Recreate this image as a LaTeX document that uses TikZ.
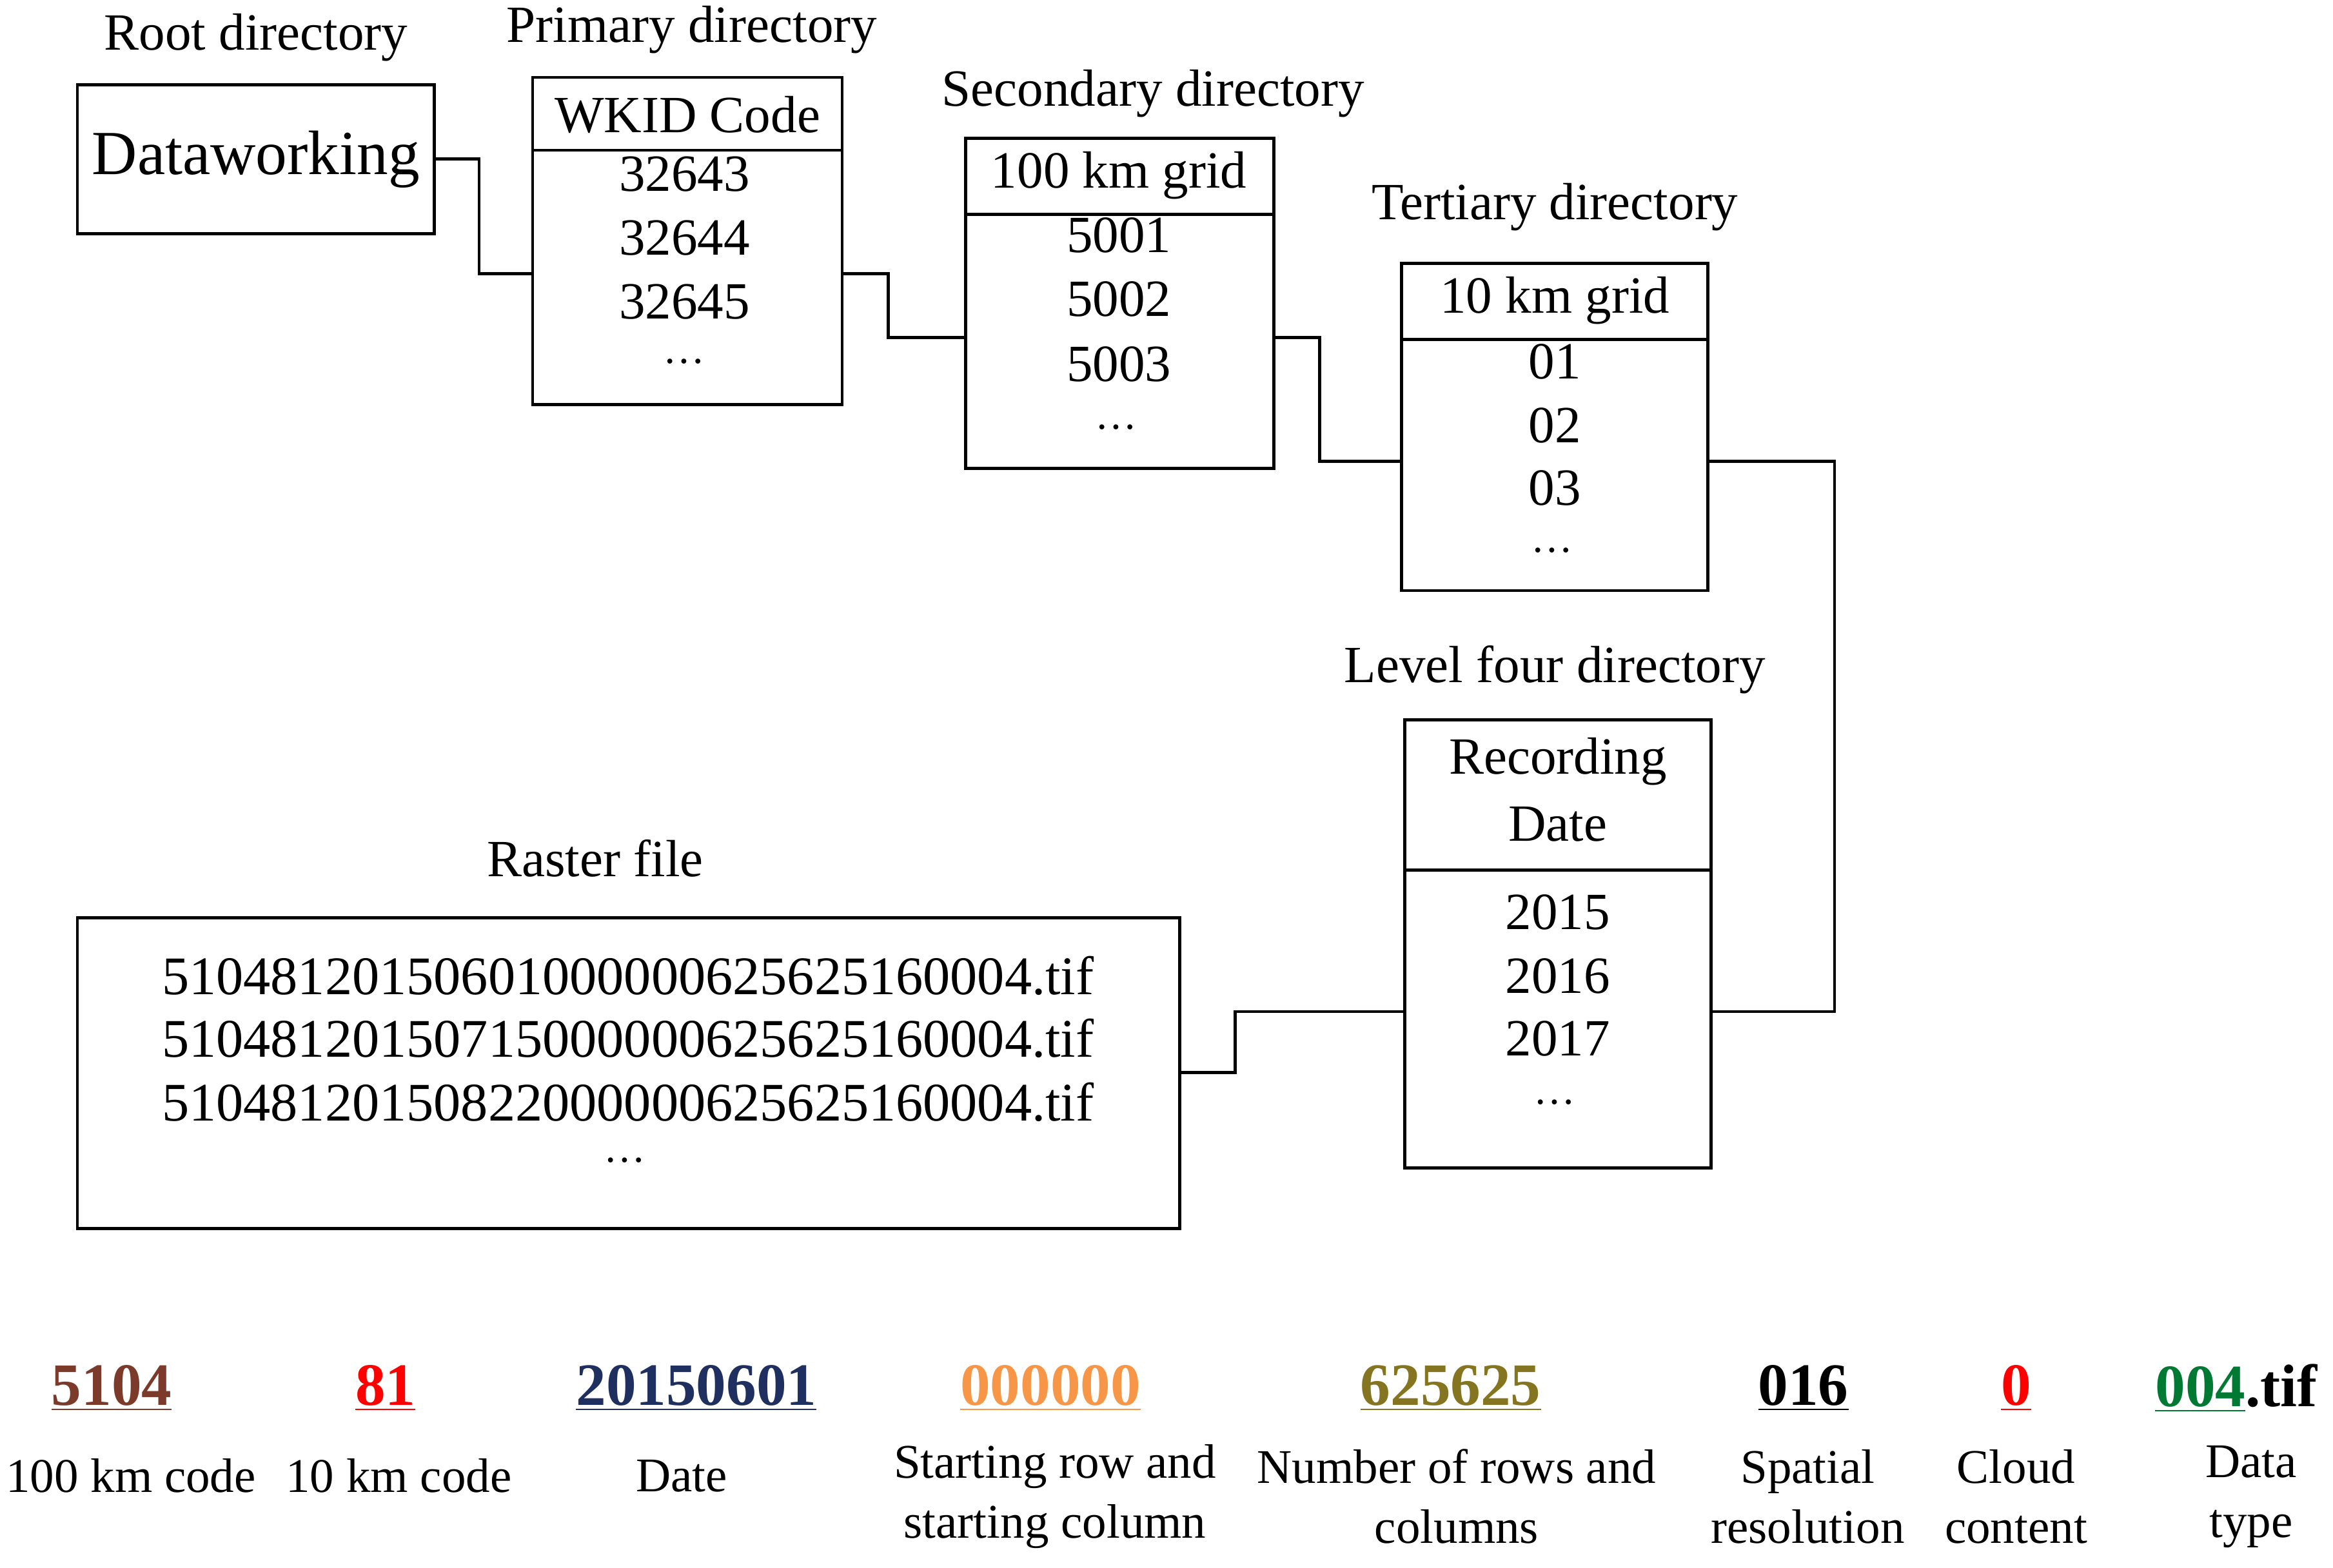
\documentclass[tikz,border=0pt]{standalone}
\usepackage{fontspec}
\setmainfont{Liberation Serif}
\begin{document}
\begin{tikzpicture}[x=0.02cm,y=-0.02cm,
  box/.style={draw,line width=1.2pt},
  wire/.style={draw,line width=1.2pt},
  t/.style={inner sep=0pt,font=\fontsize{20}{24}\selectfont},
  dt/.style={inner sep=0pt,font=\fontsize{16}{18}\selectfont},
  code/.style={inner sep=0pt,font=\fontsize{23}{27}\selectfont\bfseries},
  lab/.style={inner sep=0pt,align=center,font=\fontsize{18.5}{23}\selectfont}]
\useasboundingbox (0,0) rectangle (1568,1054);
% root
\node[box,minimum width=4.8cm,minimum height=2cm,inner sep=0pt,font=\fontsize{24}{28}\selectfont] (root) at (172,107) {Dataworking};
\node[t] (rootl) at (172,25) {Root directory};
% primary
\draw[box] (358,52) rectangle (566,272); \draw[box] (358,101) -- (566,101);
\coordinate (p) at (358,184); \coordinate (po) at (566,184);
\node[t] (pl) at (465,20) {Primary directory};
\node[t] (ph) at (462,77) {WKID Code};
\node[t] (p1) at (460,117) {32643};
\node[t] (p2) at (460,160) {32644};
\node[t] (p3) at (460,203) {32645};
\node[dt] (p4) at (460,243) {\dots};
% secondary
\draw[box] (649,93) rectangle (856,315); \draw[box] (649,144) -- (856,144);
\coordinate (s) at (649,227); \coordinate (so) at (856,227);
\node[t] (sl) at (775,63) {Secondary directory};
\node[t] (sh) at (752,118) {100 km grid};
\node[t] (s1) at (752,158) {5001};
\node[t] (s2) at (752,201) {5002};
\node[t] (s3) at (752,245) {5003};
\node[dt] (s4) at (750,287) {\dots};
% tertiary
\draw[box] (942,177) rectangle (1148,397); \draw[box] (942,228) -- (1148,228);
\coordinate (tt) at (942,310); \coordinate (to) at (1148,310);
\node[t] (tl) at (1045,139) {Tertiary directory};
\node[t] (th) at (1045,202) {10 km grid};
\node[t] (t1) at (1045,243) {01};
\node[t] (t2) at (1045,286) {02};
\node[t] (t3) at (1045,328) {03};
\node[dt] (t4) at (1043,370) {\dots};
% level four
\draw[box] (944,484) rectangle (1150,785); \draw[box] (944,585) -- (1150,585);
\coordinate (f) at (1150,680); \coordinate (fo) at (944,680);
\node[t] (fl) at (1045,450) {Level four directory};
\node[t] (fh1) at (1047,512) {Recording};
\node[t] (fh2) at (1047,554) {Date};
\node[t] (f1) at (1047,613) {2015};
\node[t] (f2) at (1047,656) {2016};
\node[t] (f3) at (1047,698) {2017};
\node[dt] (f4) at (1045,741) {\dots};
% raster
\draw[box] (52,617) rectangle (793,826);
\coordinate (r) at (793,721);
\node[t] (rl) at (400,577) {Raster file};
\node[t,font=\fontsize{20.8}{24}\selectfont] (r1) at (422,656) {51048120150601000000625625160004.tif};
\node[t,font=\fontsize{20.8}{24}\selectfont] (r2) at (422,698) {51048120150715000000625625160004.tif};
\node[t,font=\fontsize{20.8}{24}\selectfont] (r3) at (422,741) {51048120150822000000625625160004.tif};
\node[dt] (r4) at (420,780) {\dots};
% connectors
\draw[wire] (root.east) -- (322,107) |- (p);
\draw[wire] (po) -- (597,184) |- (s);
\draw[wire] (so) -- (887,227) |- (tt);
\draw[wire] (to) -- (1233,310) |- (f);
\draw[wire] (fo) -- (830,680) |- (r);
% bottom codes
\definecolor{cbrown}{HTML}{7B3A2A}
\definecolor{cblue}{HTML}{1F2F5F}
\definecolor{corange}{HTML}{F79646}
\definecolor{colive}{HTML}{857420}
\definecolor{cgreen}{HTML}{007A33}
\node[code,text=cbrown] (c1) at (75,933) {\underline{5104}};
\node[code,text=red] (c2) at (259,933) {\underline{81}};
\node[code,text=cblue] (c3) at (468,933) {\underline{20150601}};
\node[code,text=corange] (c4) at (706,933) {\underline{000000}};
\node[code,text=colive] (c5) at (975,933) {\underline{625625}};
\node[code] (c6) at (1212,933) {\underline{016}};
\node[code,text=red] (c7) at (1355,933) {\underline{0}};
\node[code] (c8) at (1503,933) {\textcolor{cgreen}{\underline{004}}.tif};
\node[lab] (l1) at (88,992) {100 km code};
\node[lab] (l2) at (268,992) {10 km code};
\node[lab] (l3) at (458,992) {Date};
\node[lab] (l4) at (709,1006) {Starting row and\\starting column};
\node[lab] (l5) at (979,1006) {Number of rows and\\columns};
\node[lab] (l6) at (1215,1006) {Spatial\\resolution};
\node[lab] (l7) at (1355,1006) {Cloud\\content};
\node[lab] (l8) at (1513,1006) {Data\\type};
\end{tikzpicture}
\end{document}
